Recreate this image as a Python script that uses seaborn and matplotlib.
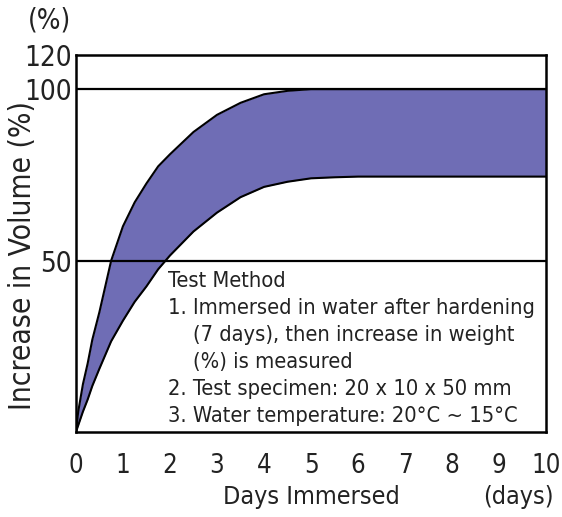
import numpy as np
import pandas as pd
import matplotlib as mpl
import matplotlib.pyplot as plt
import seaborn as sns

# Values
days = [0, 0.05, 0.1, 0.15, 0.25, 0.35, 0.5, 0.75, 1.0, 1.25, 1.5, 1.75, 2.0, 2.5, 3.0, 3.5, 4.0, 4.5, 5.0, 5.5, 6, 7, 8, 9, 10]
upper = [0, 6, 10, 14, 20, 27, 35, 50, 60, 67, 72.5, 77.5, 81, 87.5, 92.5, 96, 98.5, 99.5, 100, 100, 100, 100, 100, 100, 100]
lower = [0, 2, 4, 6, 9.5, 13.5, 18.5, 26.5, 32.5, 38, 42.5, 47.5, 51.5, 58.5, 64, 68.5, 71.5, 73, 74, 74.3, 74.5, 74.5, 74.5, 74.5, 74.5]

x_ticks = list(range(0, 11))
y_ticks = [50, 100, 120]
ref_lines = [50, 100]

notes = [
    (0, "Test Method"),
    (0, "1. Immersed in water after hardening"),
    (1, "(7 days), then increase in weight"),
    (1, "(%) is measured"),
    (0, "2. Test specimen: 20 x 10 x 50 mm"),
    (0, "3. Water temperature: 20\u00b0C ~ 15\u00b0C"),
]

df = pd.DataFrame({"days": days, "upper": upper, "lower": lower})

sns.set_theme(style="white")
plt.rcParams["font.family"] = ["DejaVu Sans"]
plt.rcParams["font.stretch"] = "condensed"
plt.rcParams["axes.edgecolor"] = "black"
plt.rcParams["axes.linewidth"] = 1.8

band = "#6f6db5"
ink = "#222222"

fig = plt.figure(figsize=(5.62, 5.17), dpi=100)
ax = fig.add_axes([0.135, 0.164, 0.837, 0.730])

# axis is compressed above 100 %
def fwd(y):
    y = np.asarray(y, dtype=float)
    return np.where(y <= 100, y, 100 + (y - 100) * 0.5)

def inv(z):
    z = np.asarray(z, dtype=float)
    return np.where(z <= 100, z, 100 + (z - 100) * 2.0)

ax.set_yscale("function", functions=(fwd, inv))

ax.fill_between(df["days"], df["lower"], df["upper"], color=band, lw=0, zorder=1)
sns.lineplot(data=df, x="days", y="upper", color="black", lw=1.5, ax=ax, zorder=3)
sns.lineplot(data=df, x="days", y="lower", color="black", lw=1.5, ax=ax, zorder=3)
for r in ref_lines:
    ax.axhline(r, color="black", lw=1.6, zorder=4)

ax.set_xlim(0, 10)
ax.set_ylim(0, 120)
ax.set_xticks(x_ticks)
ax.set_xticklabels([str(t) for t in x_ticks])
ax.set_yticks(y_ticks)
ax.set_yticklabels([str(t) for t in y_ticks])
ax.tick_params(axis="x", direction="out", length=10, width=1.5, color="black",
               labelsize=18.5, pad=5, labelcolor=ink)
ax.tick_params(axis="y", length=0, labelsize=20, pad=3, labelcolor=ink)
for t in ax.xaxis.get_major_ticks():
    if t.get_loc() in (0, 10):
        t.tick1line.set_visible(False)

ax.set_xlabel("")
ax.set_ylabel("Increase in Volume (%)", fontsize=21.5, color=ink, va="center")
ax.yaxis.set_label_coords(-0.114, 0.467)

fig.text(50 / 562, 1 - 20 / 517, "(%)", fontsize=20, color=ink, ha="center", va="center")
fig.text(311 / 562, 1 - 497 / 517, "Days Immersed", fontsize=18, color=ink, ha="center", va="center")
fig.text(518 / 562, 1 - 497 / 517, "(days)", fontsize=18, color=ink, ha="center", va="center")

y0 = 44.1
step = 7.87
for i, (indent, line) in enumerate(notes):
    ax.text(1.95 + 0.53 * indent, y0 - i * step, line, fontsize=15.7, color=ink,
            ha="left", va="center", zorder=5)

fig.savefig("out.png", dpi=100)
